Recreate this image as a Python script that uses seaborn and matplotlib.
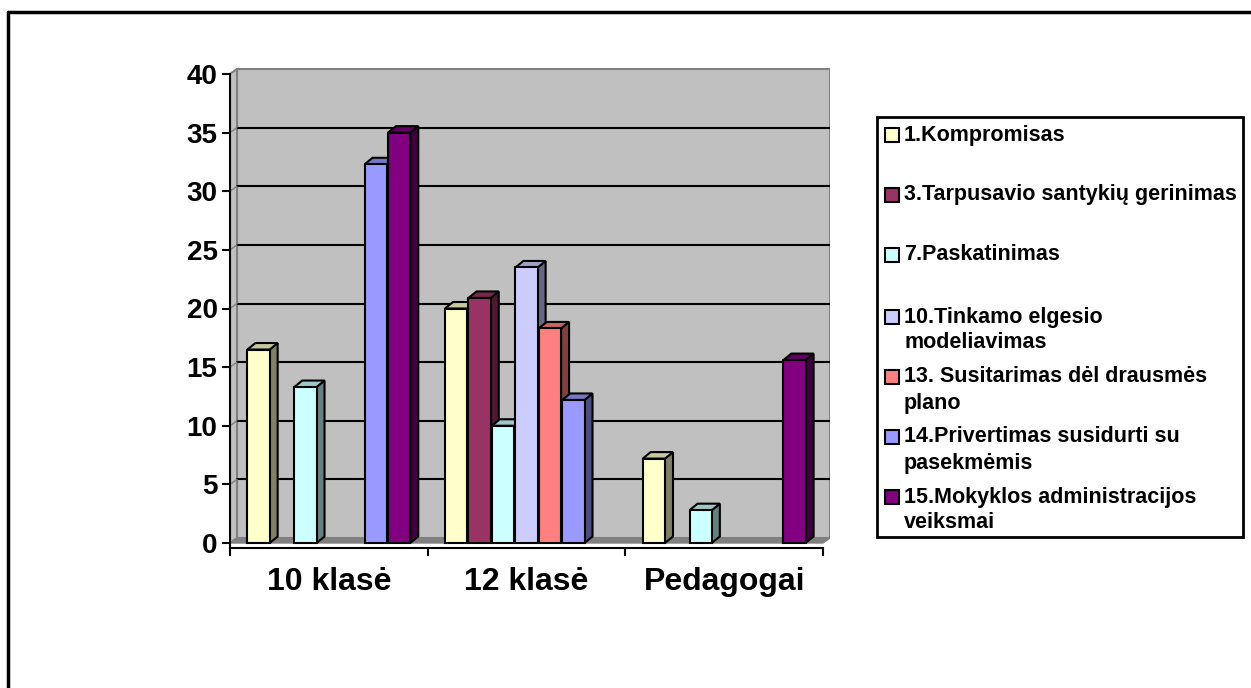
import numpy as np
import pandas as pd
import matplotlib
matplotlib.use("Agg")
import matplotlib.pyplot as plt
from matplotlib.patches import Polygon, Rectangle
from matplotlib.lines import Line2D
from matplotlib.colors import to_rgb
import seaborn as sns

# ---------------- data ----------------
categories = ["10 klasė", "12 klasė", "Pedagogai"]
series = [
    "1.Kompromisas",
    "3.Tarpusavio santykių gerinimas",
    "7.Paskatinimas",
    "10.Tinkamo elgesio modeliavimas",
    "13. Susitarimas dėl drausmės plano",
    "14.Privertimas susidurti su pasekmėmis",
    "15.Mokyklos administracijos veiksmai",
]
legend_labels = [
    "1.Kompromisas",
    "3.Tarpusavio santykių gerinimas",
    "7.Paskatinimas",
    "10.Tinkamo elgesio\nmodeliavimas",
    "13. Susitarimas dėl drausmės\nplano",
    "14.Privertimas susidurti su\npasekmėmis",
    "15.Mokyklos administracijos\nveiksmai",
]
v_kompromisas = [16.5, 20.0, 7.2]
v_tarpusavio = [0.0, 20.9, 0.0]
v_paskatinimas = [13.3, 10.0, 2.8]
v_tinkamo = [0.0, 23.5, 0.0]
v_susitarimas = [0.0, 18.3, 0.0]
v_privertimas = [32.3, 12.2, 0.0]
v_mokyklos = [35.0, 0.0, 15.6]
yticks = [0, 5, 10, 15, 20, 25, 30, 35, 40]

colors = ["#FFFFCC", "#993366", "#CCFFFF", "#CCCCFF", "#FF8080", "#9999FF", "#800080"]

all_vals = [v_kompromisas, v_tarpusavio, v_paskatinimas, v_tinkamo,
            v_susitarimas, v_privertimas, v_mokyklos]
rows = []
for s, vals in zip(series, all_vals):
    for c, v in zip(categories, vals):
        rows.append({"cat": c, "series": s, "value": v})
df = pd.DataFrame(rows)

# ---------------- style ----------------
sns.set_style("white")
plt.rcParams["font.family"] = ["Liberation Sans", "DejaVu Sans"]
plt.rcParams["font.weight"] = "bold"
plt.rcParams["text.color"] = "black"
plt.rcParams["xtick.color"] = "black"
plt.rcParams["ytick.color"] = "black"
plt.rcParams["xtick.labelcolor"] = "black"
plt.rcParams["ytick.labelcolor"] = "black"

W, H = 1251, 688
fig = plt.figure(figsize=(W / 100, H / 100), dpi=100)
fig.patch.set_facecolor("white")

# axes placement in pixels
ax_left, ax_right, ax_bottom, ax_top = 230, 830, 548, 68
ax = fig.add_axes([ax_left / W, 1 - ax_bottom / H, (ax_right - ax_left) / W,
                   (ax_bottom - ax_top) / H])
ax.set_facecolor("none")

px_x = 593 / 3.0          # pixels per category unit
px_y = 469 / 40.0         # pixels per value unit
y0_px = 543
xlim = (-0.5, -0.5 + (ax_right - ax_left) / px_x)
ylim = (-(ax_bottom - y0_px) / px_y, (y0_px - ax_top) / px_y)

sns.barplot(data=df, x="cat", y="value", hue="series", order=categories,
            hue_order=series, palette=colors, width=0.83, gap=0.05,
            edgecolor="black", linewidth=1.5, saturation=1, legend=False,
            ax=ax, zorder=5)

ax.set_xlim(*xlim)
ax.set_ylim(*ylim)

# 3D walls
dxw, dyw = 7 / px_x, 5 / px_y
wall = Polygon([(-0.5 + dxw, dyw), (2.5 + dxw, dyw), (2.5 + dxw, 40 + dyw),
                (-0.5 + dxw, 40 + dyw)], closed=True, facecolor="#C0C0C0",
               edgecolor="#808080", lw=1.5, zorder=1)
ax.add_patch(wall)
lwall = Polygon([(-0.5, 0), (-0.5 + dxw, dyw), (-0.5 + dxw, 40 + dyw), (-0.5, 40)],
                closed=True, facecolor="#C0C0C0", edgecolor="#808080", lw=1.5, zorder=1)
ax.add_patch(lwall)
floor = Polygon([(-0.5, 0), (2.5, 0), (2.5 + dxw, dyw), (-0.5 + dxw, dyw)],
                closed=True, facecolor="#808080", edgecolor="#808080", lw=1, zorder=2)
ax.add_patch(floor)
for v in yticks[1:-1]:
    ax.plot([-0.5 + dxw, 2.5 + dxw], [v + dyw, v + dyw], color="black", lw=1.5, zorder=2)
    ax.plot([-0.5, -0.5 + dxw], [v, v + dyw], color="#808080", lw=1, zorder=2)

# 3D faces on bars
dxb, dyb = 8 / px_x, 6.5 / px_y
bars = sorted([p for p in ax.patches if isinstance(p, Rectangle) and p.get_zorder() == 5],
              key=lambda p: p.get_x())
for i, p in enumerate(bars):
    h = p.get_height()
    if h <= 0:
        p.set_visible(False)
        continue
    x0, w = p.get_x(), p.get_width()
    base = np.array(to_rgb(p.get_facecolor()))
    zb = 10 + 2 * i
    p.set_zorder(zb + 1)
    side = Polygon([(x0 + w, 0), (x0 + w, h), (x0 + w + dxb, h + dyb), (x0 + w + dxb, dyb)],
                   closed=True, facecolor=base * 0.5, edgecolor="black", lw=1.5, zorder=zb)
    top = Polygon([(x0, h), (x0 + w, h), (x0 + w + dxb, h + dyb), (x0 + dxb, h + dyb)],
                  closed=True, facecolor=base * 0.78, edgecolor="black", lw=1.5, zorder=zb)
    ax.add_patch(side)
    ax.add_patch(top)

# axes / ticks
for s in ["top", "right"]:
    ax.spines[s].set_visible(False)
ax.spines["left"].set_bounds(ylim[0], 40)
ax.spines["bottom"].set_bounds(-0.5, 2.5)
for s in ["left", "bottom"]:
    ax.spines[s].set_color("black")
    ax.spines[s].set_linewidth(1.5)
    ax.spines[s].set_zorder(50)

ax.set_yticks(yticks)
ax.set_yticklabels([str(t) for t in yticks], fontsize=20, fontweight="bold", color="black")
ax.tick_params(axis="y", direction="out", length=6, width=1.5, color="black", pad=3, left=True)

ax.set_xticks([0, 1, 2])
ax.set_xticklabels(categories, fontsize=23, fontweight="bold", color="black")
ax.set_xticks([-0.5, 0.5, 1.5, 2.5], minor=True)
ax.tick_params(axis="x", which="major", length=0, pad=14)
ax.tick_params(axis="x", which="minor", direction="out", length=6, width=1.5,
               color="black", bottom=True)
ax.set_xlabel("")
ax.set_ylabel("")
ax.grid(False)

# ---------------- legend (manual, figure pixels) ----------------
def fx(x):
    return x / W

def fy(y):
    return 1 - y / H

lbox = Rectangle((fx(877), fy(537)), fx(1243) - fx(877), fy(117) - fy(537),
                 transform=fig.transFigure, facecolor="white", edgecolor="black", lw=2)
fig.add_artist(lbox)
for k, (lab, col) in enumerate(zip(legend_labels, colors)):
    yc = 135 + 60 * k + (2 if k >= 3 else 0)
    sq = Rectangle((fx(885), fy(yc + 7)), fx(14), 14 / H, transform=fig.transFigure,
                   facecolor=col, edgecolor="black", lw=1.5)
    fig.add_artist(sq)
    for j, line in enumerate(lab.split("\n")):
        fig.text(fx(904), fy(yc + 26 * j), line, fontsize=15.5, fontweight="bold",
                 va="center", ha="left", color="black")

# outer frame (left and top)
fig.add_artist(Line2D([fx(8), fx(8)], [fy(12), fy(H)], transform=fig.transFigure,
                      color="black", lw=2.5))
fig.add_artist(Line2D([fx(8), fx(W)], [fy(12), fy(12)], transform=fig.transFigure,
                      color="black", lw=2.5))

fig.savefig("out.png", dpi=100)
